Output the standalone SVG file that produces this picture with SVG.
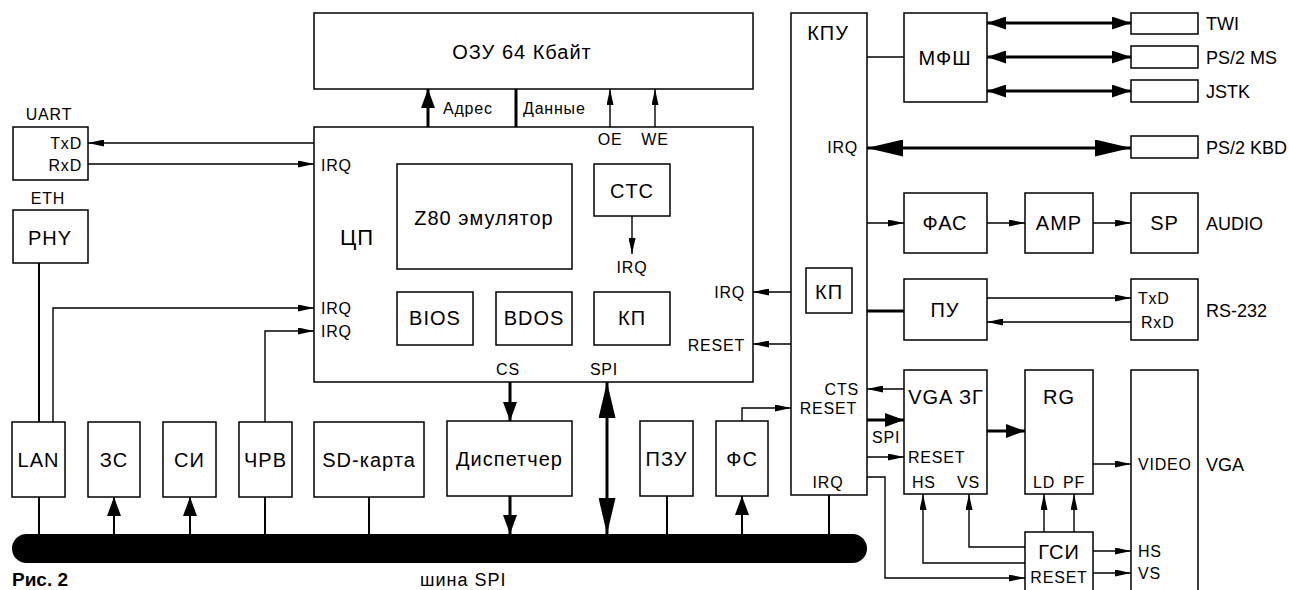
<svg xmlns="http://www.w3.org/2000/svg" width="1289" height="590" viewBox="0 0 1289 590">
<style>
text{font-family:"Liberation Sans",Arial,sans-serif;fill:#000}
.b{fill:#fff;stroke:#000;stroke-width:1.5}
.t20{font-size:20px;letter-spacing:1px}
.t16{font-size:16px;letter-spacing:0.8px}
.t18{font-size:18px}
.m{text-anchor:middle}
.e{text-anchor:end}
.w{fill:none;stroke:#000;stroke-width:1.4}
.k{fill:none;stroke:#000;stroke-width:3}
.k2{fill:none;stroke:#000;stroke-width:2}
.ta{marker-end:url(#a)}
</style>
<defs>
<marker id="a" markerUnits="userSpaceOnUse" markerWidth="16" markerHeight="7" refX="16" refY="3.5" orient="auto-start-reverse"><path d="M0,0 L16,3.5 L0,7 z"/></marker>
<marker id="bk" markerUnits="userSpaceOnUse" markerWidth="19" markerHeight="14" refX="19" refY="7" orient="auto-start-reverse"><path d="M0,0 L19,7 L0,14 z"/></marker>
<marker id="bg" markerUnits="userSpaceOnUse" markerWidth="36" markerHeight="17" refX="36" refY="8.5" orient="auto-start-reverse"><path d="M0,0 L36,8.5 L0,17 z"/></marker>
<marker id="md" markerUnits="userSpaceOnUse" markerWidth="19" markerHeight="13" refX="19" refY="6.5" orient="auto-start-reverse"><path d="M0,0 L19,6.5 L0,13 z"/></marker>
<marker id="sm" markerUnits="userSpaceOnUse" markerWidth="12" markerHeight="7" refX="12" refY="3.5" orient="auto-start-reverse"><path d="M0,0 L12,3.5 L0,7 z"/></marker>
</defs>

<g id="connectors">
<!-- SPI bus -->
<rect x="12" y="534" width="855" height="29" rx="14.5" fill="#000"/>
<!-- RAM -->
<line class="k" x1="428" y1="127" x2="428" y2="89" marker-end="url(#bk)"/>
<line class="k" x1="516" y1="127" x2="516" y2="89"/>
<line class="w ta" x1="610" y1="127" x2="610" y2="89"/>
<line class="w ta" x1="655" y1="127" x2="655" y2="89"/>
<!-- UART -->
<line class="w ta" x1="314" y1="143" x2="88" y2="143"/>
<line class="w ta" x1="88" y1="164" x2="314" y2="164"/>
<!-- LAN / PHY -->
<line class="k2" x1="39" y1="263" x2="39" y2="422"/>
<line class="k2" x1="39" y1="497" x2="39" y2="535"/>
<polyline class="w ta" points="53,422 53,308 314,308"/>
<polyline class="w ta" points="265,422 265,331 314,331"/>
<!-- bus devices -->
<line class="k2" x1="114" y1="535" x2="114" y2="497" marker-end="url(#bk)"/>
<line class="k2" x1="190" y1="535" x2="190" y2="497" marker-end="url(#bk)"/>
<line class="k2" x1="265" y1="497" x2="265" y2="535"/>
<line class="k2" x1="369" y1="497" x2="369" y2="535"/>
<line class="k" x1="510" y1="382" x2="510" y2="421" marker-end="url(#bk)"/>
<line class="k" x1="510" y1="496" x2="510" y2="534" marker-end="url(#bk)"/>
<line class="k" x1="607" y1="382" x2="607" y2="534" marker-start="url(#bg)" marker-end="url(#bg)"/>
<line class="k2" x1="667" y1="496" x2="667" y2="535"/>
<line class="k2" x1="742" y1="535" x2="742" y2="496" marker-end="url(#bk)"/>
<polyline class="w ta" points="742,421 742,408 791,408"/>
<line class="k2" x1="829" y1="495" x2="829" y2="535"/>
<!-- KPU to CPU -->
<line class="w ta" x1="791" y1="292" x2="753" y2="292"/>
<line class="w ta" x1="791" y1="344" x2="753" y2="344"/>
<!-- KPU right side -->
<line class="w" x1="867" y1="57" x2="904" y2="57"/>
<line class="k" x1="987" y1="23" x2="1131" y2="23" marker-start="url(#md)" marker-end="url(#md)"/>
<line class="k" x1="987" y1="57" x2="1131" y2="57" marker-start="url(#md)" marker-end="url(#md)"/>
<line class="k" x1="987" y1="91" x2="1131" y2="91" marker-start="url(#md)" marker-end="url(#md)"/>
<line class="k" x1="867" y1="148" x2="1131" y2="148" stroke-width="4" marker-start="url(#bg)" marker-end="url(#bg)"/>
<line class="w ta" x1="867" y1="223" x2="904" y2="223"/>
<line class="w ta" x1="987" y1="223" x2="1025" y2="223"/>
<line class="w ta" x1="1093" y1="223" x2="1131" y2="223"/>
<line class="k" x1="867" y1="311" x2="904" y2="311"/>
<line class="w ta" x1="987" y1="298" x2="1131" y2="298"/>
<line class="w ta" x1="1131" y1="322" x2="987" y2="322"/>
<line class="w ta" x1="904" y1="389" x2="867" y2="389"/>
<line class="k" x1="867" y1="420" x2="904" y2="420" marker-end="url(#bk)"/>
<line class="w ta" x1="867" y1="457" x2="904" y2="457"/>
<polyline class="w ta" points="867,477 885,477 885,578 1025,578"/>
<line class="k" x1="987" y1="431" x2="1025" y2="431" marker-end="url(#bk)"/>
<line class="w" x1="1033" y1="419" x2="1084" y2="419" marker-start="url(#sm)" marker-end="url(#sm)"/>
<line class="w ta" x1="1093" y1="464" x2="1131" y2="464"/>
<line class="w ta" x1="1044" y1="532" x2="1044" y2="494"/>
<line class="w ta" x1="1074" y1="532" x2="1074" y2="494"/>
<polyline class="w ta" points="1025,547 969,547 969,494"/>
<polyline class="w ta" points="1025,563 923,563 923,494"/>
<line class="w ta" x1="1093" y1="551" x2="1131" y2="551"/>
<line class="w ta" x1="1093" y1="573" x2="1131" y2="573"/>
</g>

<g id="ram"><rect class="b" x="314" y="13" width="439" height="76"/><text class="t20 m" x="522" y="59">ОЗУ 64 Кбайт</text></g>
<g id="ram-labels"><text class="t16" x="443" y="114">Адрес</text><text class="t16" x="523" y="114">Данные</text></g>

<g id="cpu">
<rect class="b" x="314" y="127" width="439" height="255" fill="none"/>
<text class="t16 m" x="610" y="145">OE</text><text class="t16 m" x="655" y="145">WE</text>
<text class="t16" x="321" y="171">IRQ</text>
<text class="t16" x="321" y="314">IRQ</text>
<text class="t16" x="321" y="337">IRQ</text>
<text class="m" x="357" y="245" style="font-size:22px;letter-spacing:1px">ЦП</text>
<text class="t16 m" x="632" y="273">IRQ</text>
<text class="t16 e" x="745" y="298">IRQ</text>
<text class="t16 e" x="745" y="351">RESET</text>
<text class="t16 m" x="508" y="375">CS</text>
<text class="t16 m" x="604" y="375">SPI</text>
</g>
<g id="z80"><rect class="b" x="397" y="164" width="175" height="105"/><text class="t20 m" x="484" y="225">Z80 эмулятор</text></g>
<g id="ctc"><rect class="b" x="594" y="164" width="76" height="52"/><text class="t20 m" x="632" y="198">CTC</text></g>
<line class="w ta" x1="632" y1="216" x2="632" y2="254"/>
<g id="bios"><rect class="b" x="397" y="292" width="76" height="53"/><text class="t20 m" x="435" y="325">BIOS</text></g>
<g id="bdos"><rect class="b" x="496" y="292" width="76" height="53"/><text class="t20 m" x="534" y="325">BDOS</text></g>
<g id="kp"><rect class="b" x="594" y="292" width="76" height="53"/><text class="t20 m" x="632" y="325">КП</text></g>

<g id="uart"><text class="t16 m" x="49" y="120">UART</text><rect class="b" x="13" y="127" width="75" height="53"/><text class="t16 e" x="82" y="149">TxD</text><text class="t16 e" x="82" y="171">RxD</text></g>
<g id="phy"><text class="t16 m" x="48" y="204">ETH</text><rect class="b" x="13" y="210" width="75" height="53"/><text class="t20 m" x="50" y="245">PHY</text></g>

<g id="lan"><rect class="b" x="12" y="422" width="53" height="75"/><text class="t20 m" x="38.5" y="467">LAN</text></g>
<g id="zs"><rect class="b" x="88" y="422" width="52" height="75"/><text class="t20 m" x="114" y="467">ЗС</text></g>
<g id="si"><rect class="b" x="163" y="422" width="53" height="75"/><text class="t20 m" x="189.5" y="467">СИ</text></g>
<g id="chrv"><rect class="b" x="239" y="422" width="53" height="75"/><text class="t20 m" x="265.5" y="467">ЧРВ</text></g>
<g id="sd"><rect class="b" x="314" y="422" width="110" height="75"/><text class="t20 m" x="369" y="467">SD-карта</text></g>
<g id="disp"><rect class="b" x="447" y="421" width="125" height="75"/><text class="t20 m" x="509.5" y="466">Диспетчер</text></g>
<g id="pzu"><rect class="b" x="640" y="421" width="53" height="75"/><text class="t20 m" x="666.5" y="466">ПЗУ</text></g>
<g id="fs"><rect class="b" x="716" y="421" width="52" height="75"/><text class="t20 m" x="742" y="466">ФС</text></g>

<g id="kpu">
<rect class="b" x="791" y="13" width="76" height="482"/>
<text class="t20 m" x="828" y="40">КПУ</text>
<text class="t16 e" x="858" y="153">IRQ</text>
<text class="t16 e" x="859" y="395">CTS</text>
<text class="t16 e" x="857" y="414">RESET</text>
<text class="t16 m" x="828" y="488">IRQ</text>
</g>
<g id="kpu-kp"><rect class="b" x="806" y="268" width="46" height="45"/><text class="t20 m" x="829" y="299">КП</text></g>
<text class="t16" x="872" y="443">SPI</text>

<g id="mfsh"><rect class="b" x="904" y="13" width="83" height="89"/><text class="t20 m" x="945" y="65">МФШ</text></g>
<g id="twi"><rect class="b" x="1131" y="13" width="67" height="21"/><text class="t18" x="1206" y="29.5">TWI</text></g>
<g id="ps2ms"><rect class="b" x="1131" y="46" width="67" height="22"/><text class="t18" x="1206" y="63.5">PS/2 MS</text></g>
<g id="jstk"><rect class="b" x="1131" y="80" width="67" height="22"/><text class="t18" x="1206" y="97.5">JSTK</text></g>
<g id="ps2kbd"><rect class="b" x="1131" y="136" width="67" height="22"/><text class="t18" x="1206" y="153.5">PS/2 KBD</text></g>

<g id="fas"><rect class="b" x="904" y="193" width="83" height="60"/><text class="t20 m" x="945" y="230">ФАС</text></g>
<g id="amp"><rect class="b" x="1025" y="193" width="68" height="60"/><text class="t20 m" x="1059" y="230">AMP</text></g>
<g id="sp"><rect class="b" x="1131" y="193" width="67" height="60"/><text class="t20 m" x="1164.5" y="230">SP</text><text class="t18" x="1206" y="229.5">AUDIO</text></g>

<g id="pu"><rect class="b" x="904" y="279" width="83" height="61"/><text class="t20 m" x="945" y="317">ПУ</text></g>
<g id="rs232"><rect class="b" x="1131" y="279" width="67" height="61"/><text class="t16" x="1138" y="304">TxD</text><text class="t16" x="1141" y="328">RxD</text><text class="t18" x="1206" y="316.5">RS-232</text></g>

<g id="vga3g"><rect class="b" x="904" y="370" width="83" height="124"/><text class="t20 m" x="946" y="404">VGA ЗГ</text><text class="t16" x="908" y="463">RESET</text><text class="t16" x="912" y="488">HS</text><text class="t16" x="957" y="488">VS</text></g>
<g id="rg"><rect class="b" x="1025" y="370" width="68" height="124" fill="none"/><text class="t20 m" x="1059" y="404">RG</text><text class="t16" x="1033" y="488">LD</text><text class="t16" x="1063" y="488">PF</text></g>
<g id="vga"><rect class="b" x="1131" y="370" width="67" height="230" fill="none"/><text class="t16" x="1138" y="470">VIDEO</text><text class="t16" x="1138" y="557">HS</text><text class="t16" x="1138" y="579">VS</text><text class="t18" x="1206" y="470.5">VGA</text></g>
<g id="gsi"><rect class="b" x="1025" y="532" width="68" height="70"/><text class="t20 m" x="1059" y="559">ГСИ</text><text class="t16 m" x="1059" y="583">RESET</text></g>

<text x="420" y="586" style="font-size:18px;letter-spacing:1px">шина SPI</text>
<text x="12" y="586" style="font-size:19px;font-weight:bold">Рис. 2</text>
</svg>
